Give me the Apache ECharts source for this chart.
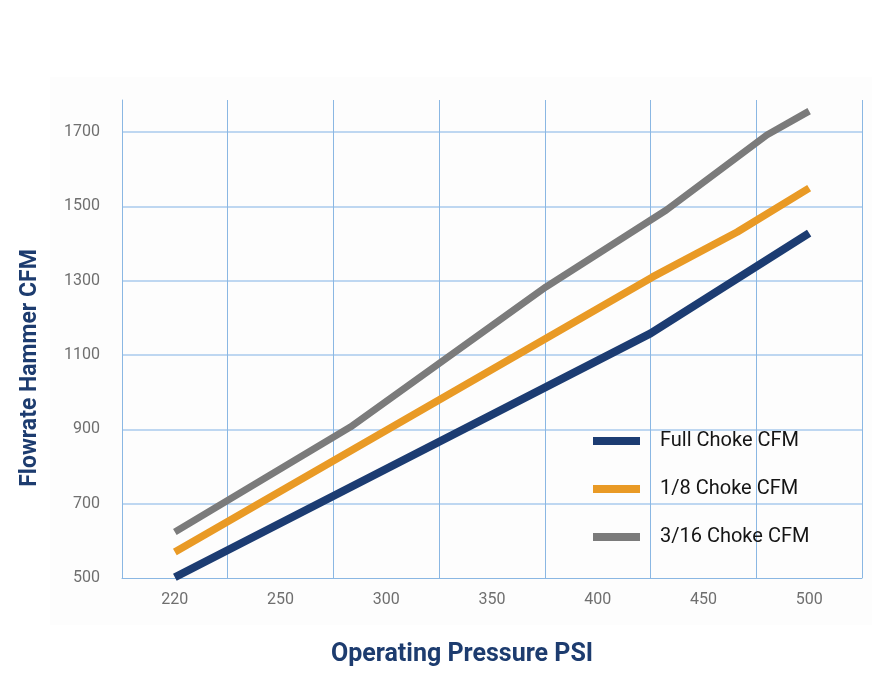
<!DOCTYPE html>
<html>
<head>
<meta charset="utf-8">
<script src="https://cdn.jsdelivr.net/npm/echarts@6/dist/echarts.min.js"></script>
<style>
html,body{margin:0;padding:0;background:#ffffff;}
#chart{width:883px;height:681px;}
</style>
</head>
<body>
<div id="chart"></div>
<script>
// Category labels of the pressure axis (PSI)
const pressureLabels = ['220', '250', '300', '350', '400', '450', '500'];

// Series names
const seriesNames = ['Full Choke CFM', '1/8 Choke CFM', '3/16 Choke CFM'];

// Point positions along the pressure axis (in category-slot units, 0.5 = centre of "220")
const fullChokeX = [0.5, 5.0, 6.5];
const fullChokeY = [502, 1158, 1428];

const eighthChokeX = [0.5, 5.02, 5.82, 6.5];
const eighthChokeY = [570, 1310, 1431, 1549];

const sixteenthChokeX = [0.5, 2.16, 4.01, 5.15, 6.1, 6.5];
const sixteenthChokeY = [624, 906, 1283, 1490, 1692, 1756];

// Flowrate axis
const yMin = 500;
const yMax = 1786;
const yStep = 200;

function zip(xs, ys) { return xs.map((x, i) => [x, ys[i]]); }

const colors = ['#1c3c72', '#e99a25', '#7b7b7b'];
const gridBlue = '#8ab7e3';
const gridBlueH = '#a9caec';
const labelGrey = '#6f6f6f';
const titleBlue = '#1d3c6f';

const chart = echarts.init(document.getElementById('chart'), null, {renderer: 'canvas'});
chart.setOption({
  animation: false,
  backgroundColor: '#ffffff',
  graphic: [{
    type: 'rect',
    z: -10,
    shape: {x: 50, y: 77, width: 822, height: 548},
    style: {fill: '#fdfdfd'}
  }],
  grid: {left: 122, right: 21, top: 100, bottom: 103, containLabel: false},
  legend: {
    orient: 'vertical',
    left: 588,
    top: 426,
    icon: 'rect',
    itemWidth: 47,
    itemHeight: 8,
    itemGap: 28,
    itemStyle: {borderWidth: 0},
    textStyle: {color: '#151515', fontSize: 20, fontFamily: 'Roboto', padding: [0, 0, 0, 15]},
    data: seriesNames
  },
  xAxis: [{
    type: 'value',
    min: 0,
    max: 7,
    interval: 1,
    position: 'bottom',
    axisLine: {show: true, lineStyle: {color: gridBlue, width: 1}},
    axisTick: {show: false},
    axisLabel: {show: false},
    splitLine: {show: true, lineStyle: {color: gridBlue, width: 1}}
  }, {
    type: 'category',
    data: pressureLabels,
    boundaryGap: true,
    position: 'bottom',
    axisLine: {show: false},
    axisTick: {show: false},
    splitLine: {show: false},
    axisLabel: {color: labelGrey, fontSize: 16, fontFamily: 'Roboto', margin: 14},
    name: 'Operating Pressure PSI',
    nameLocation: 'middle',
    nameGap: 64,
    nameTextStyle: {color: titleBlue, fontSize: 25, fontWeight: 'bold', fontFamily: 'Roboto', padding: [0, 60, 0, 0]}
  }],
  yAxis: {
    type: 'value',
    min: yMin,
    max: yMax,
    interval: yStep,
    axisLine: {show: true, lineStyle: {color: gridBlue, width: 1}},
    axisTick: {show: false},
    axisLabel: {color: labelGrey, fontSize: 16, fontFamily: 'Roboto', margin: 22, showMaxLabel: false,
      formatter: function (v) { return String(v); }},
    splitLine: {show: true, showMinLine: false, showMaxLine: false, lineStyle: {color: gridBlueH, width: 1.5}},
    name: 'Flowrate Hammer CFM',
    nameLocation: 'middle',
    nameRotate: 90,
    nameGap: 80,
    nameTextStyle: {color: titleBlue, fontSize: 23, fontWeight: 'bold', fontFamily: 'Roboto', padding: [0, 58, 0, 0]}
  },
  series: [{
    name: seriesNames[0],
    type: 'line',
    xAxisIndex: 0,
    symbol: 'none',
    data: zip(fullChokeX, fullChokeY),
    lineStyle: {color: colors[0], width: 8, cap: 'butt'},
    itemStyle: {color: colors[0]},
    z: 3
  }, {
    name: seriesNames[1],
    type: 'line',
    xAxisIndex: 0,
    symbol: 'none',
    data: zip(eighthChokeX, eighthChokeY),
    lineStyle: {color: colors[1], width: 7.5, cap: 'butt'},
    itemStyle: {color: colors[1]},
    z: 3
  }, {
    name: seriesNames[2],
    type: 'line',
    xAxisIndex: 0,
    symbol: 'none',
    data: zip(sixteenthChokeX, sixteenthChokeY),
    lineStyle: {color: colors[2], width: 7, cap: 'butt'},
    itemStyle: {color: colors[2]},
    z: 3
  }]
});
</script>
</body>
</html>
